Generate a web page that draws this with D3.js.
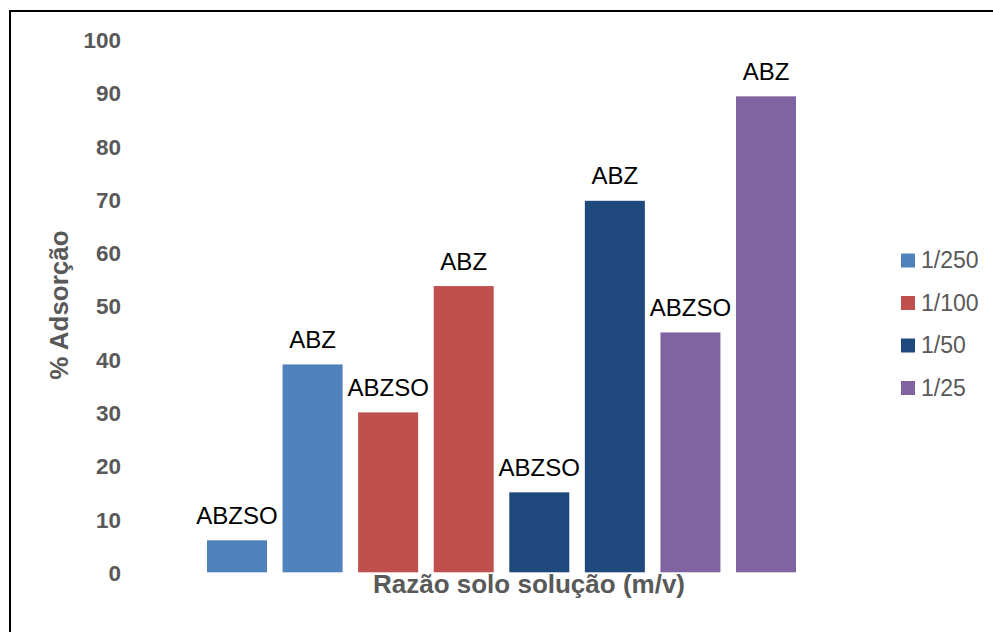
<!DOCTYPE html>
<html>
<head>
<meta charset="utf-8">
<script src="https://cdn.jsdelivr.net/npm/d3@7"></script>
<style>
  html, body { margin: 0; padding: 0; background: #fff; }
  svg { display: block; font-family: "Liberation Sans", Arial, sans-serif; }
</style>
</head>
<body>
<svg id="chart" width="993" height="632"></svg>
<script>
// Soil/solution ratios (one colour each) and the two samples measured at each ratio
const ratios = ["1/250", "1/100", "1/50", "1/25"];
const samples = ["ABZSO", "ABZ"];
const abzsoValues = [6, 30, 15, 45];
const abzValues = [39, 53.7, 69.7, 89.3];
const ratioColors = ["#4F81BD", "#C0504D", "#1F497D", "#8064A2"];
const yTicks = [0, 10, 20, 30, 40, 50, 60, 70, 80, 90, 100];

const yTitle = "% Adsorção";
const xTitle = "Razão solo solução (m/v)";

// One bar per ratio/sample pair, in drawing order
const bars = [];
ratios.forEach((r, i) => {
  bars.push({ ratio: r, sample: samples[0], value: abzsoValues[i], color: ratioColors[i] });
  bars.push({ ratio: r, sample: samples[1], value: abzValues[i], color: ratioColors[i] });
});

const svg = d3.select("#chart");
const grey = "#595959";

// frame around the figure
svg.append("path")
  .attr("d", "M10,640 V11 H1000")
  .attr("fill", "none")
  .attr("stroke", "#000")
  .attr("stroke-width", 2);

const x = d3.scaleBand()
  .domain(bars.map((d, i) => i))
  .range([207, 796])
  .paddingInner(0.206)
  .paddingOuter(0);

const y = d3.scaleLinear().domain([0, 100]).range([572.3, 39.3]);

// y axis: labels only
const yAxis = svg.append("g")
  .attr("transform", "translate(121,0)")
  .call(d3.axisLeft(y).tickValues(yTicks).tickSize(0).tickPadding(0));
yAxis.select(".domain").remove();
yAxis.selectAll("text")
  .attr("fill", grey)
  .attr("font-size", 22.5)
  .attr("font-weight", "bold")
  .attr("font-family", "'Liberation Sans', Arial, sans-serif")
  .attr("dy", "0.36em");

// bars
svg.append("g").selectAll("rect")
  .data(bars)
  .join("rect")
  .attr("x", (d, i) => x(i))
  .attr("width", x.bandwidth())
  .attr("y", d => y(d.value))
  .attr("height", d => y(0) - y(d.value))
  .attr("fill", d => d.color);

// sample name above each bar
svg.append("g").selectAll("text")
  .data(bars)
  .join("text")
  .attr("x", (d, i) => x(i) + x.bandwidth() / 2)
  .attr("y", d => y(d.value) - 16.5)
  .attr("text-anchor", "middle")
  .attr("font-size", 24)
  .attr("fill", "#000")
  .text(d => d.sample);

// axis titles
svg.append("text")
  .attr("transform", "translate(68,305) rotate(-90)")
  .attr("text-anchor", "middle")
  .attr("font-size", 26)
  .attr("font-weight", "bold")
  .attr("fill", grey)
  .text(yTitle);

svg.append("text")
  .attr("x", 529)
  .attr("y", 593)
  .attr("text-anchor", "middle")
  .attr("font-size", 26)
  .attr("font-weight", "bold")
  .attr("fill", grey)
  .text(xTitle);

// legend
const legend = svg.append("g").selectAll("g")
  .data(ratios)
  .join("g")
  .attr("transform", (d, i) => `translate(901,${253.5 + i * 42.5})`);
legend.append("rect")
  .attr("width", 14)
  .attr("height", 14)
  .attr("fill", (d, i) => ratioColors[i]);
legend.append("text")
  .attr("x", 20)
  .attr("y", 14.5)
  .attr("font-size", 23)
  .attr("fill", grey)
  .text(d => d);
</script>
</body>
</html>
